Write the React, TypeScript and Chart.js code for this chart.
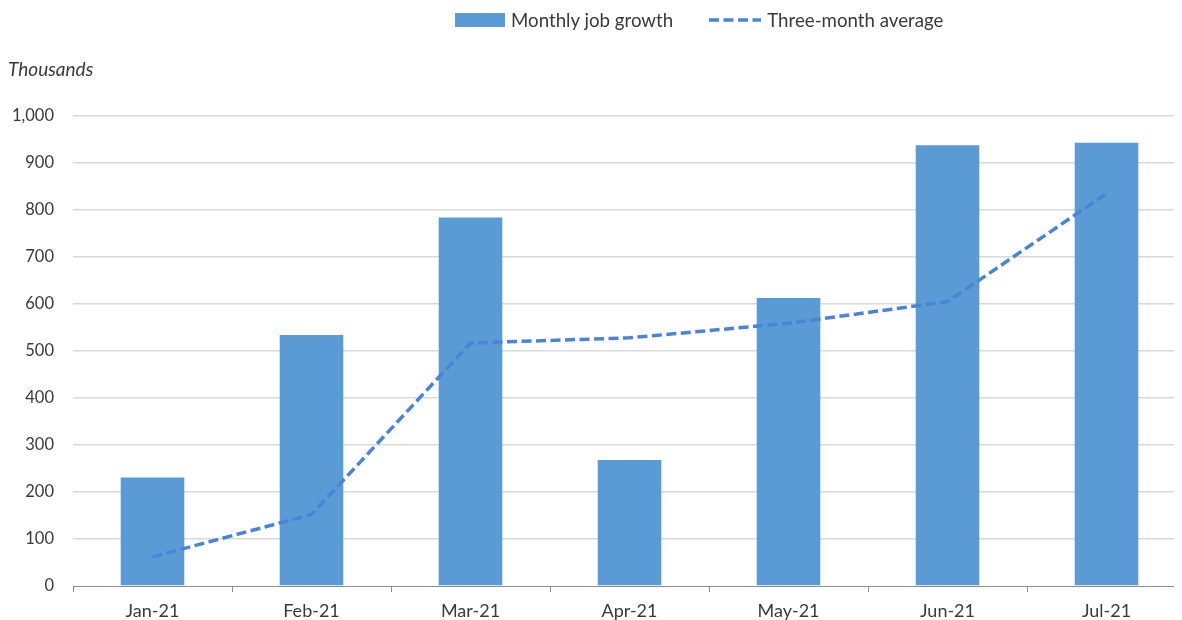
import React, { useEffect, useRef } from "react";
import { Chart, registerables } from "chart.js";

Chart.register(...registerables);

const categories = ["Jan-21", "Feb-21", "Mar-21", "Apr-21", "May-21", "Jun-21", "Jul-21"];
const monthlyJobGrowth = [231, 534, 784, 268, 613, 938, 943];
const threeMonthAverage = [62, 152, 517, 528, 559, 605, 835];
const yMin = 0;
const yMax = 1000;
const yStep = 100;
const seriesNames = ["Monthly job growth", "Three-month average"];
const unitLabel = "Thousands";

const FONT = "Lato, 'Open Sans', sans-serif";
const TEXT = "#3a3a3a";
const BAR = "#5b9bd5";
const LINE = "#4a84d6";
const W = 1190;
const H = 612;

export default function App() {
  const ref = useRef<HTMLCanvasElement | null>(null);

  useEffect(() => {
    document.documentElement.style.overflow = "hidden";
    document.body.style.overflow = "hidden";
    if (!ref.current) return;
    const chart = new Chart(ref.current, {
      type: "bar",
      data: {
        labels: categories,
        datasets: [
          {
            type: "line",
            label: seriesNames[1],
            data: threeMonthAverage,
            borderColor: LINE,
            backgroundColor: LINE,
            borderWidth: 3.5,
            borderDash: [10, 4.5],
            pointRadius: 0,
            tension: 0,
            fill: false,
            order: 0,
          } as any,
          {
            type: "bar",
            label: seriesNames[0],
            data: monthlyJobGrowth,
            backgroundColor: BAR,
            borderWidth: 0,
            barPercentage: 0.4,
            categoryPercentage: 1,
            order: 1,
          },
        ],
      },
      options: {
        animation: false,
        responsive: false,
        maintainAspectRatio: false,
        layout: { padding: { top: 108, left: 0, right: 12, bottom: 0 } },
        plugins: {
          legend: { display: false },
          title: { display: false },
          tooltip: { enabled: false },
        },
        scales: {
          x: {
            offset: true,
            grid: {
              offset: true,
              drawOnChartArea: false,
              drawTicks: true,
              tickLength: 6,
              color: "#8c8c8c",
            },
            border: { display: true, color: "#8c8c8c", width: 1 },
            ticks: {
              color: TEXT,
              font: { family: FONT, size: 18 },
              padding: 8,
              maxRotation: 0,
            },
            afterFit: (s: any) => {
              s.height = 34;
            },
          },
          y: {
            min: yMin,
            max: yMax,
            ticks: {
              stepSize: yStep,
              color: TEXT,
              font: { family: FONT, size: 16.5 },
              padding: 19,
              callback: (v: any) => Number(v).toLocaleString("en-US"),
            },
            grid: {
              color: (ctx: any) => (ctx.tick && ctx.tick.value === 0 ? "rgba(0,0,0,0)" : "#d9d9d9"),
              lineWidth: 1.5,
              drawTicks: false,
            },
            border: { display: false },
            afterFit: (s: any) => {
              s.width = 65;
            },
          },
        },
      },
    });
    return () => chart.destroy();
  }, []);

  return (
    <div style={{ position: "relative", width: 1174, height: H, overflow: "hidden" }}>
      <div style={{ position: "absolute", left: 0, top: 0, width: W, height: H }}>
        <canvas ref={ref} width={W} height={H} style={{ width: W, height: H, display: "block" }} />
      </div>
      <div
        style={{
          position: "absolute",
          left: 0,
          top: 50,
          fontFamily: FONT,
          fontStyle: "italic",
          fontSize: 19,
          lineHeight: "22px",
          color: TEXT,
        }}
      >
        {unitLabel}
      </div>
      <div
        style={{
          position: "absolute",
          left: 447,
          top: 1,
          height: 22,
          display: "flex",
          alignItems: "center",
          fontFamily: FONT,
          fontSize: 18.7,
          color: TEXT,
          whiteSpace: "nowrap",
        }}
      >
        <span style={{ display: "inline-block", width: 50, height: 14, background: BAR }} />
        <span style={{ marginLeft: 6 }}>{seriesNames[0]}</span>
        <svg width={52} height={10} style={{ marginLeft: 36, display: "block" }}>
          <line x1={0} y1={5} x2={52} y2={5} stroke={LINE} strokeWidth={3.5} strokeDasharray="10 4.5" />
        </svg>
        <span style={{ marginLeft: 6 }}>{seriesNames[1]}</span>
      </div>
    </div>
  );
}
